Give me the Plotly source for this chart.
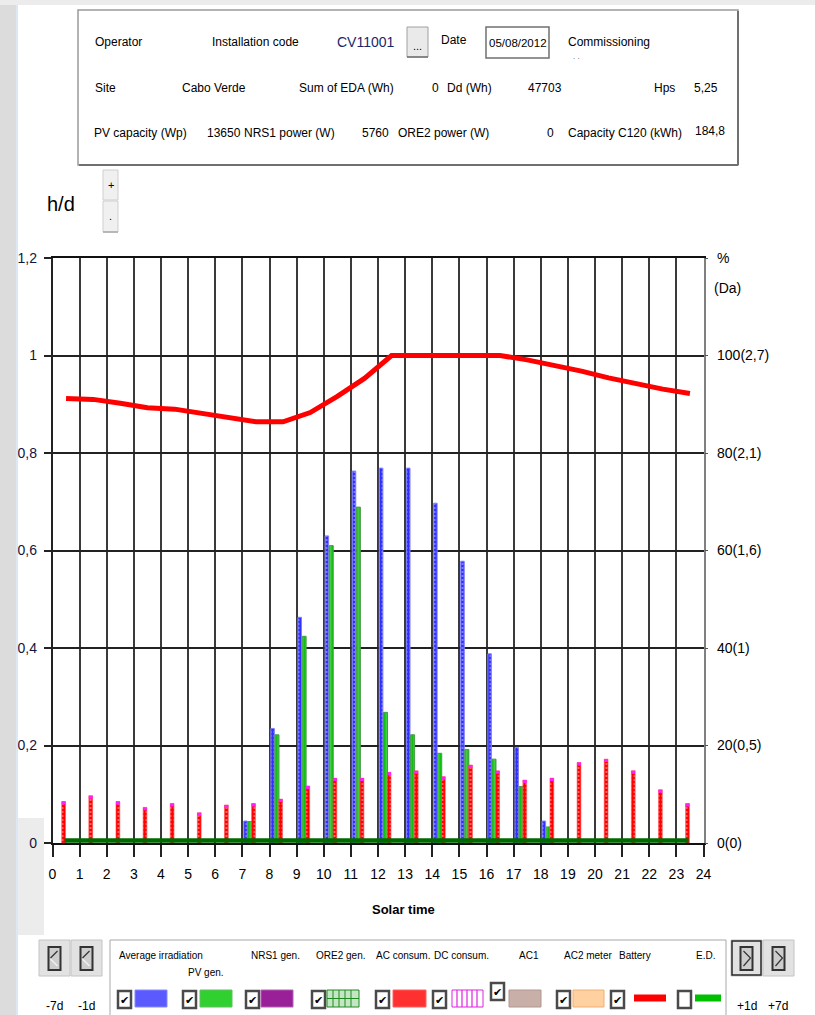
import plotly.graph_objects as go

W, H = 815, 1015
FONT = "Liberation Sans, Arial, sans-serif"

# ---------------- data ----------------
hours = list(range(24))
x_tick_vals = list(range(25))
x_tick_labels = [str(i) for i in range(25)]
y_left_ticks = [0, 0.2, 0.4, 0.6, 0.8, 1.0, 1.2]
y_left_labels = ["0", "0,2", "0,4", "0,6", "0,8", "1", "1,2"]
y_right_ticks = [0, 20, 40, 60, 80, 100, 120]
y_right_labels = ["0(0)", "20(0,5)", "40(1)", "60(1,6)", "80(2,1)", "100(2,7)", "%"]

avg_irradiation = [None, None, None, None, None, None, None,
                   0.045, 0.235, 0.463, 0.630, 0.763, 0.769, 0.769,
                   0.697, 0.578, 0.388, 0.196, 0.045,
                   None, None, None, None, None]
pv_gen = [None, None, None, None, None, None, None,
          0.044, 0.222, 0.424, 0.610, 0.689, 0.268, 0.222,
          0.184, 0.192, 0.172, 0.116, 0.033,
          None, None, None, None, None]
ac_consum = [0.085, 0.097, 0.085, 0.073, 0.081, 0.062, 0.078, 0.081,
             0.090, 0.117, 0.133, 0.133, 0.145, 0.148, 0.136, 0.160,
             0.148, 0.129, 0.133, 0.165, 0.172, 0.148, 0.109, 0.081]
ore2_gen = [0.005, 0.005, 0.005, 0.005, 0.005, 0.005, 0.005, 0.005,
            0.005, 0.005, 0.005, 0.005, 0.005, 0.005, 0.005, 0.005,
            0.005, 0.005, 0.005, 0.005, 0.005, 0.005, 0.005, 0.005]
battery_pct = [91.2, 91.0, 90.2, 89.3, 89.0, 88.2, 87.2, 86.4,
               86.4, 88.3, 91.6, 95.3, 100, 100, 100, 100,
               100, 99.1, 98.0, 96.8, 95.4, 94.2, 93.1, 92.2]

# ---------------- helpers ----------------
shapes, annotations = [], []


def px(x):
    return x / W


def py(y):
    return 1 - y / H


def rect(x0, y0, x1, y1, fill, line=None, lw=1, layer="above"):
    shapes.append(dict(type="rect", xref="paper", yref="paper",
                       x0=px(x0), x1=px(x1), y0=py(y1), y1=py(y0),
                       fillcolor=fill,
                       line=dict(color=line if line else "rgba(0,0,0,0)",
                                 width=lw if line else 0),
                       layer=layer))


def seg(x0, y0, x1, y1, color, lw=1):
    shapes.append(dict(type="line", xref="paper", yref="paper",
                       x0=px(x0), x1=px(x1), y0=py(y0), y1=py(y1),
                       line=dict(color=color, width=lw), layer="above"))


def txt(x, y, s, size=12, color="black", anchor="left", family=FONT):
    annotations.append(dict(xref="paper", yref="paper", x=px(x), y=py(y),
                            text=s, showarrow=False, xanchor=anchor,
                            yanchor="middle", borderpad=0,
                            font=dict(family=family, size=size, color=color)))


# ---------------- figure ----------------
fig = go.Figure()

fig.add_trace(go.Bar(
    x=hours, y=avg_irradiation, name="Average irradiation",
    offset=0.05, width=0.13,
    marker=dict(color="#2f2fff", line=dict(color="#8080ff", width=1),
                pattern=dict(shape=".", fgcolor="white", size=4, solidity=0.2)),
))
fig.add_trace(go.Bar(
    x=hours, y=pv_gen, name="PV gen.",
    offset=0.2, width=0.15,
    marker=dict(color="#10c010", line=dict(color="#4a9a4a", width=1),
                pattern=dict(shape="|", fgcolor="white", size=4, solidity=0.2)),
))
fig.add_trace(go.Bar(
    x=hours, y=ac_consum, name="AC consum.",
    offset=0.34, width=0.14,
    marker=dict(color="#ff0000", line=dict(color="#ff5050", width=0.6),
                pattern=dict(shape=".", fgcolor="white", size=4, solidity=0.2)),
))
fig.add_trace(go.Bar(
    x=hours, y=[0.006] * 24, base=[v - 0.006 for v in ac_consum],
    name="AC cap", offset=0.34, width=0.14,
    marker=dict(color="#ff20ff", line=dict(width=0)),
))
fig.add_trace(go.Scatter(
    x=[h + 0.45 for h in hours], y=ore2_gen, mode="lines", name="ORE2 gen.",
    line=dict(color="#006a00", width=4.5),
))
fig.add_trace(go.Scatter(
    x=[h + 0.5 for h in hours], y=battery_pct, mode="lines", name="Battery",
    yaxis="y2", line=dict(color="#ff0000", width=5),
))

x_dom = [px(52.5), px(703.5)]
y_dom = [py(843), py(258)]

fig.update_layout(
    width=W, height=H,
    margin=dict(l=0, r=0, t=0, b=0, pad=0, autoexpand=False),
    paper_bgcolor="white", plot_bgcolor="white",
    showlegend=False, barmode="overlay",
    xaxis=dict(domain=x_dom, range=[0, 24], tickvals=x_tick_vals,
               ticktext=x_tick_labels, ticks="outside", ticklen=12,
               tickwidth=1.5, tickcolor="#222", ticklabelstandoff=5,
               showgrid=True, gridcolor="#3a3a3a", gridwidth=1.5,
               showline=True, linecolor="#111", linewidth=2, mirror=True,
               zeroline=False, fixedrange=True, automargin=False,
               tickfont=dict(family=FONT, size=14, color="black")),
    yaxis=dict(domain=y_dom, range=[0, 1.2], tickvals=y_left_ticks,
               ticktext=y_left_labels, ticks="outside", ticklen=7,
               tickwidth=2, tickcolor="#222", ticklabelstandoff=4,
               showgrid=True, gridcolor="#222", gridwidth=2,
               showline=True, linecolor="#222", linewidth=1.5,
               zeroline=False, fixedrange=True, automargin=False,
               tickfont=dict(family=FONT, size=14, color="#14143c")),
    yaxis2=dict(overlaying="y", side="right", anchor="x", range=[0, 120],
                tickvals=y_right_ticks, ticktext=y_right_labels,
                ticks="outside", ticklen=3, tickcolor="#555",
                ticklabelstandoff=6, showgrid=False, zeroline=False,
                showline=True, linecolor="#808080", linewidth=1.5,
                fixedrange=True, automargin=False,
                tickfont=dict(family=FONT, size=14, color="black")),
)

# ---------------- surrounding UI ----------------
rect(0, 0, 16, H, "#dcdcdc")
rect(18, 818, 44, 935, "#ececec", layer="below")
seg(17, 0, 17, H, "#b8d0ea", 1)
rect(0, 0, W, 5, "#ececec")

# info box
rect(78, 10, 738, 165, "white", "#9a9a9a", 1.5)
seg(79, 165, 738, 165, "#707070", 2)
seg(738, 11, 738, 165, "#707070", 2)

# row 1
txt(94, 42, "Operator")
txt(211, 42, "Installation code")
txt(336, 42, "CV11001", size=14, color="#18286a")
rect(407, 27, 428, 57, "#eaeaea", "#a0a0a0", 1)
seg(407, 57, 428, 57, "#707070", 1.5)
txt(417.5, 46, "...", size=11, anchor="center")
txt(440, 40, "Date")
rect(486, 27, 549, 58, "white", "#707070", 1.5)
txt(517.5, 43, "05/08/2012", size=11.5, anchor="center")
txt(567, 42, "Commissioning")
txt(572, 57, ". .", size=8, color="#555")
# row 2
txt(94, 88, "Site")
txt(181, 88, "Cabo Verde")
txt(298, 88, "Sum of EDA (Wh)")
txt(431, 88, "0")
txt(446, 88, "Dd (Wh)")
txt(527, 88, "47703")
rect(557, 76, 575, 100, "white")
txt(653, 88, "Hps")
txt(693, 88, "5,25")
# row 3
txt(93, 133, "PV capacity (Wp)")
txt(206, 133, "13650")
txt(243, 133, "NRS1 power (W)")
txt(361, 133, "5760")
txt(397, 133, "ORE2 power (W)")
txt(546, 133, "0")
txt(567, 133, "Capacity C120 (kWh)")
txt(694, 131, "184,8")

# h/d and +/- buttons
txt(46, 204, "h/d", size=20)
rect(103, 170, 118, 200, "#f0f0f0", "#cfcfcf", 1)
rect(103, 201, 118, 232, "#f0f0f0", "#cfcfcf", 1)
seg(103, 232, 118, 232, "#a8a8a8", 1.5)
txt(110.5, 185, "+", size=11, anchor="center")
txt(110.5, 216, ".", size=11, anchor="center")

# right axis unit
txt(713, 288, "(Da)", size=14)

# axis title
txt(403, 909, "<b>Solar time</b>", size=13, anchor="center")

# ---------------- bottom legend / buttons ----------------
def nav_button(x0, x1, right=False, selected=False):
    rect(x0, 940, x1, 976, "#e2e2e2", "#c4c4c4", 1)
    if selected:
        rect(x0 + 1, 941, x1 - 1, 975, "rgba(0,0,0,0)", "#2a2a2a", 1.5)
    cx = (x0 + x1) / 2
    rect(cx - 6, 947, cx + 6, 970, "#cdcdcd", "#333", 2)
    if right:
        shapes.append(dict(type="path", xref="paper", yref="paper",
                           path="M %f %f L %f %f L %f %f" % (
                               px(cx - 3), py(951), px(cx + 4), py(958),
                               px(cx - 3), py(966)),
                           line=dict(color="#333", width=1.2), layer="above"))
    else:
        seg(cx + 3, 951, cx - 4, 958, "#333", 1.2)
        seg(cx - 4, 959, cx + 3, 966, "#f4f4f4", 1.2)


nav_button(39, 70)
nav_button(71, 102)
nav_button(731, 762, right=True, selected=True)
nav_button(763, 794, right=True)
txt(54, 1006, "-7d", size=12, anchor="center")
txt(86, 1006, "-1d", size=12, anchor="center")
txt(747, 1006, "+1d", size=12, anchor="center")
txt(778, 1006, "+7d", size=12, anchor="center")

rect(110, 940, 726, 1020, "white", "#a8a8a8", 1)

legend_labels = [(118, 955, "Average irradiation"), (187, 972, "PV gen."),
                 (250, 955, "NRS1 gen."), (315, 955, "ORE2 gen."),
                 (375, 955, "AC consum."), (433, 955, "DC consum."),
                 (518, 955, "AC1"), (563, 955, "AC2 meter"),
                 (618, 955, "Battery"), (695, 955, "E.D.")]
for lx, ly, s in legend_labels:
    txt(lx, ly, s, size=10)


def checkbox(x0, y0, checked=True):
    rect(x0, y0, x0 + 13, y0 + 17, "white", "#4a4a4a", 2.5)
    if checked:
        txt(x0 + 6.5, y0 + 9, "✔", size=11, anchor="center",
            family="DejaVu Sans")


for cx in [118, 183, 246, 312, 376, 433, 557, 611]:
    checkbox(cx, 991)
checkbox(491, 983)
checkbox(678, 991, checked=False)

rect(135, 990, 167, 1007, "#5a5aff", "#8888ff", 1)
rect(200, 990, 232, 1007, "#30d030", "#60c060", 1)
rect(261, 990, 293, 1007, "#9a209a", "#b060b0", 1)
rect(327, 990, 359, 1007, "#c4e6c4", "#208a20", 1)
for gx in [333, 339, 345, 351]:
    seg(gx, 990, gx, 1007, "#208a20", 1)
seg(327, 998.5, 359, 998.5, "#208a20", 1)
rect(393, 990, 426, 1007, "#ff3030", "#ff6060", 1)
rect(452, 990, 483, 1007, "white", "#e020e0", 1)
for gx in [457, 462, 467, 472, 477]:
    seg(gx, 990, gx, 1007, "#e020e0", 1.2)
rect(509, 990, 541, 1007, "#c8b0a8", "#b09890", 1)
rect(573, 990, 604, 1007, "#ffd0a0", "#f0b070", 1)
seg(634, 998, 666, 998, "#ff0000", 7)
seg(695, 998, 721, 998, "#00c000", 7)

fig.update_layout(shapes=shapes, annotations=annotations)
fig.write_html("out.html", config={"displayModeBar": False},
               post_script="document.body.style.margin='0';"
                           "document.body.style.overflow='hidden';")
